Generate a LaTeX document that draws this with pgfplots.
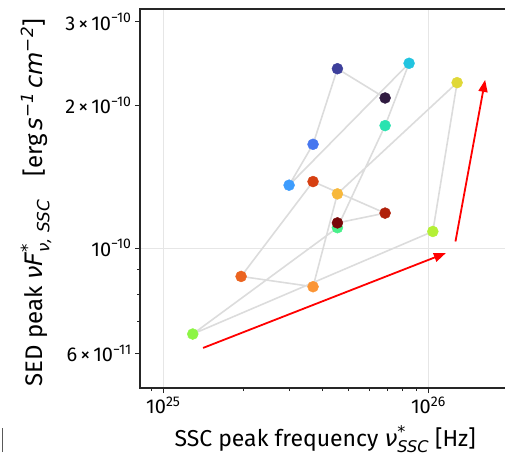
\documentclass[border=0pt]{standalone}
\usepackage{pgfplots}
\pgfplotsset{compat=1.18}
\usepackage{amsmath}
\usepackage{fontspec}
\setmainfont{Fira Sans}
\newfontfamily\dvs{DejaVu Sans}
\usetikzlibrary{arrows.meta}
\definecolor{spine}{HTML}{262626}
\definecolor{gridc}{HTML}{E6E6E6}
\definecolor{linkc}{HTML}{DCDCDC}
\pgfplotsset{colormap={turbo16}{
 rgb255=(47,26,64) rgb255=(61,63,155) rgb255=(71,119,239) rgb255=(61,156,253)
 rgb255=(34,196,224) rgb255=(42,227,176) rgb255=(72,240,138) rgb255=(140,245,68)
 rgb255=(180,240,54) rgb255=(224,216,56) rgb255=(247,184,60) rgb255=(251,149,53)
 rgb255=(235,100,32) rgb255=(214,64,18) rgb255=(176,32,10) rgb255=(120,8,8)}}
\pgfplotstableread{
x y c
6.865e25 2.072e-10 0
4.536e25 2.388e-10 1
3.671e25 1.655e-10 2
2.981e25 1.357e-10 3
8.455e25 2.452e-10 4
6.865e25 1.812e-10 5
4.536e25 1.104e-10 6
1.291e25 6.59e-11 7
1.039e26 1.084e-10 8
1.283e26 2.232e-10 9
4.536e25 1.301e-10 10
3.671e25 8.29e-11 11
1.965e25 8.715e-11 12
3.671e25 1.381e-10 13
6.865e25 1.185e-10 14
4.536e25 1.130e-10 15
}\seddata
\newcommand{\tms}{\hspace{3pt}×\hspace{3pt}}
\newcommand{\mi}[1]{{\dvs\itshape #1}}
\begin{document}
\begin{tikzpicture}
\useasboundingbox (0pt,0pt) rectangle (505pt,452pt);
\draw[black!65, line width=1pt] (2pt,0pt) -- (2pt,24pt);
\begin{axis}[
  at={(140pt,64pt)}, anchor=south west,
  scale only axis, width=370pt, height=379pt,
  xmode=log, ymode=log,
  xmin=8.17e24, xmax=2.033e26, ymin=5.07e-11, ymax=3.19e-10,
  axis line style={draw=spine, line width=1.3pt},
  tick style={draw=spine, line width=1pt},
  tick align=outside,
  major tick length=5pt, minor tick length=3pt,
  xtick pos=bottom, ytick pos=left,
  xtick={1e25,1e26}, xticklabels={10\textsuperscript{25},10\textsuperscript{26}},
  minor xtick={9e24,2e25,3e25,4e25,5e25,6e25,7e25,8e25,9e25,2e26},
  ytick={1e-10}, yticklabels={10\textsuperscript{−10}},
  minor ytick={7e-11,8e-11,9e-11},
  extra y ticks={6e-11,2e-10,3e-10},
  extra y tick labels={6\tms10\textsuperscript{−11},2\tms10\textsuperscript{−10},3\tms10\textsuperscript{−10}},
  extra y tick style={grid=none, major tick length=5pt},
  grid=major, major grid style={draw=gridc, line width=1pt},
  tick label style={font=\fontsize{20}{22}\selectfont, text=black},
  label style={text=black},
  xlabel={SSC peak frequency \mi{ν}$^{\text{\mi{*}}}_{\text{\mi{SSC}}}$ [Hz]},
  ylabel={SED peak \mi{νF}$^{\text{\mi{*}}}_{\text{\mi{ν, SSC}}}$\hspace{23pt}[erg\hspace{4pt}\mi{s}$^{\text{\mi{−1}}}$\hspace{4pt}\mi{cm}$^{\text{\mi{−2}}}$]},
  xlabel style={font=\fontsize{23}{27}\selectfont, at={(axis description cs:0.5,0)}, anchor=base, yshift=-58pt},
  ylabel style={font=\fontsize{24}{28}\selectfont, at={(axis description cs:-0.2649,0.489)}, anchor=base},
]
\addplot[draw=linkc, line width=1.6pt, no marks] table[x=x,y=y] {\seddata};
\addplot[scatter, only marks, mark=*, mark size=5.5pt, colormap name=turbo16,
  point meta=explicit, point meta min=0, point meta max=15,
  scatter/use mapped color={draw=mapped color, fill=mapped color}]
  table[x=x,y=y,meta=c] {\seddata};
\addplot[red, line width=1.8pt, -{Triangle[length=12pt,width=9pt]}] coordinates {(1.412e25,6.16e-11) (1.1635e26,9.76e-11)};
\addplot[red, line width=1.8pt, -{Triangle[length=12pt,width=9pt]}] coordinates {(1.265e26,1.0325e-10) (1.637e26,2.262e-10)};
\end{axis}
\end{tikzpicture}
\end{document}
